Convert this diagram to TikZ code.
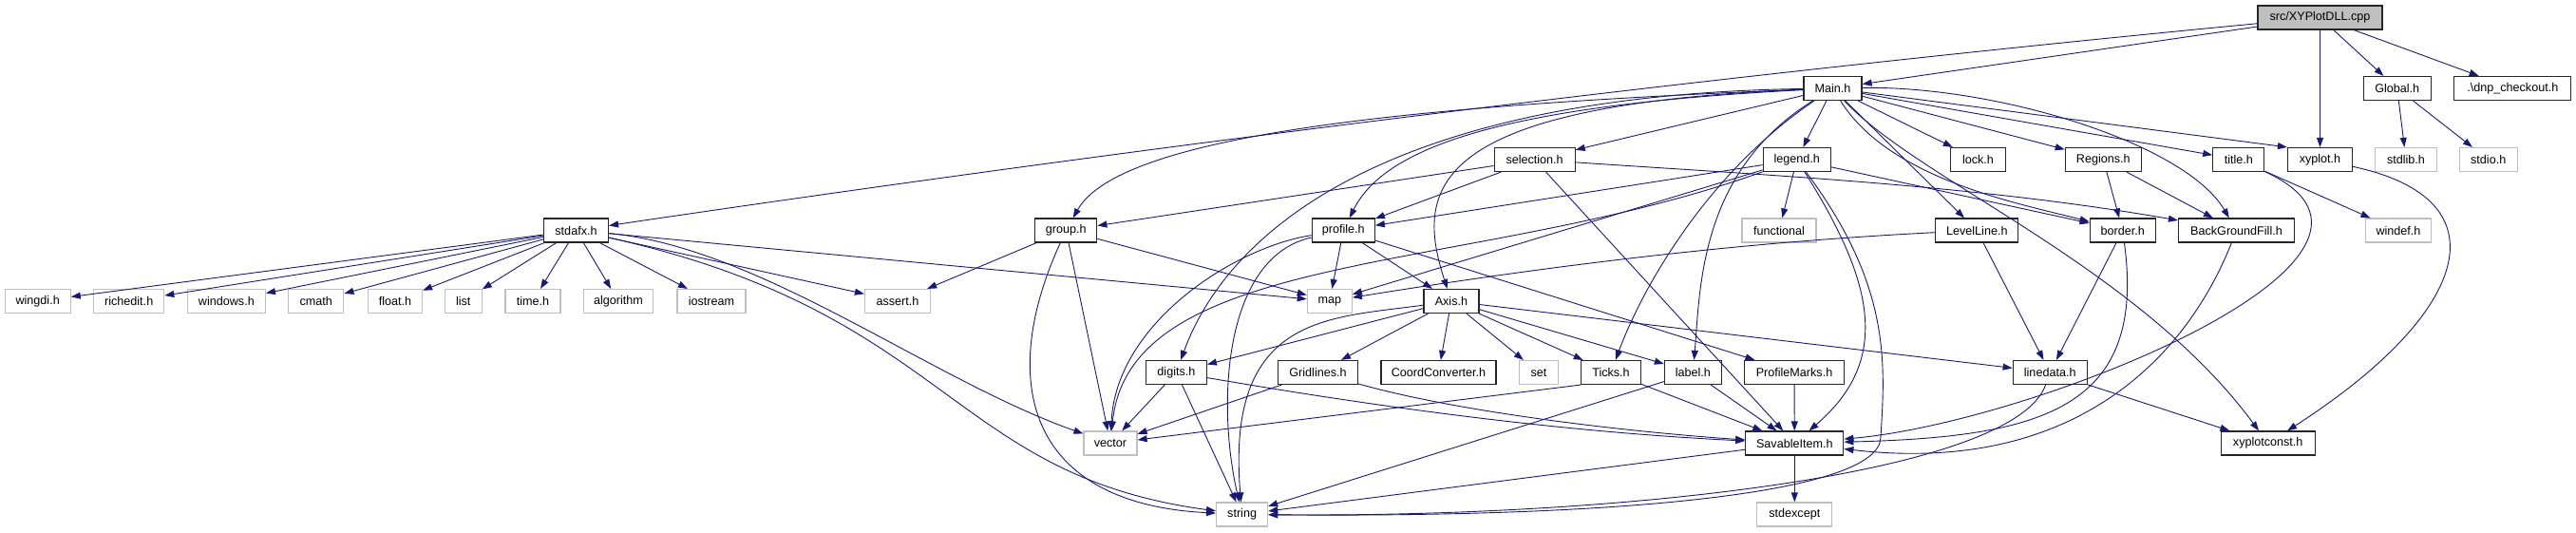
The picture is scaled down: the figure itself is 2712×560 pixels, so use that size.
\documentclass[tikz,border=0pt]{standalone}
\usepackage{fontspec}
\setmainfont{Liberation Sans}
\usepackage{tikz}
\usetikzlibrary{arrows.meta}
\definecolor{edgeblue}{HTML}{191970}
\definecolor{sysgrey}{HTML}{BFBFBF}

\begin{document}
\begin{tikzpicture}[x=1pt,y=-1pt,
    hdr/.style={draw=black!85, line width=1.2pt, fill=white, minimum height=25pt,
      inner sep=0pt, font=\fontsize{12.6}{15}\selectfont},
    sys/.style={hdr, draw=sysgrey},
    srcfile/.style={hdr, fill=sysgrey},
    dep/.style={draw=edgeblue, line width=0.9pt, -{Triangle[length=10pt,width=7pt]}}]
    \useasboundingbox (0,0) rectangle (2712,560);

    % 第一、二层
    \node[srcfile, minimum width=131pt] (cpp) at (2442.5,18.5) {src/XYPlotDLL.cpp};
    \node[hdr, minimum width=61pt] (Main) at (1929.5,93) {Main.h};
    \node[hdr, minimum width=71pt] (Global) at (2523.7,93) {Global.h};
    \node[hdr, minimum width=123pt] (dnp) at (2645.3,93) {.\textbackslash dnp\_checkout.h};

    % 第三层
    \node[hdr, minimum width=85pt] (selection) at (1615.6,168) {selection.h};
    \node[hdr, minimum width=71pt] (legend) at (1891.7,168) {legend.h};
    \node[hdr, minimum width=58pt] (lock) at (2082.5,168) {lock.h};
    \node[hdr, minimum width=80pt] (Regions) at (2214.3,168) {Regions.h};
    \node[hdr, minimum width=54pt] (title) at (2356.8,168) {title.h};
    \node[hdr, minimum width=68pt] (xyplot) at (2442.5,168) {xyplot.h};
    \node[sys, minimum width=65pt] (stdlib) at (2533,168) {stdlib.h};
    \node[sys, minimum width=61pt] (stdio) at (2619.7,168) {stdio.h};

    % 第四层
    \node[hdr, minimum width=68pt] (stdafx) at (606.5,242.5) {stdafx.h};
    \node[hdr, minimum width=65pt] (group) at (1122.3,242.5) {group.h};
    \node[hdr, minimum width=66pt] (profile) at (1414.3,242.5) {profile.h};
    \node[sys, minimum width=78pt] (functional) at (1873,242.5) {functional};
    \node[hdr, minimum width=87pt] (LevelLine) at (2081.3,242.5) {LevelLine.h};
    \node[hdr, minimum width=69pt] (border) at (2234.7,242.5) {border.h};
    \node[hdr, minimum width=122pt] (BGF) at (2354.5,242.5) {BackGroundFill.h};
    \node[sys, minimum width=69pt] (windef) at (2525,242.5) {windef.h};

    % 第五层
    \node[sys, minimum width=69pt] (wingdi) at (39.7,317) {wingdi.h};
    \node[sys, minimum width=74pt] (richedit) at (135.7,317) {richedit.h};
    \node[sys, minimum width=82pt] (windows) at (238.4,317) {windows.h};
    \node[sys, minimum width=58pt] (cmath) at (332.8,317) {cmath};
    \node[sys, minimum width=57pt] (float) at (416,317) {float.h};
    \node[sys, minimum width=39pt] (list) at (487.7,317) {list};
    \node[sys, minimum width=58pt] (time) at (561,317) {time.h};
    \node[sys, minimum width=73pt] (algorithm) at (651,317) {algorithm};
    \node[sys, minimum width=72pt] (iostream) at (748.9,317) {iostream};
    \node[sys, minimum width=69pt] (assert) at (945,317) {assert.h};
    \node[sys, minimum width=47pt] (map) at (1399.8,317) {map};
    \node[hdr, minimum width=58pt] (Axis) at (1527.9,317) {Axis.h};

    % 第六层
    \node[hdr, minimum width=64pt] (digits) at (1238.4,392) {digits.h};
    \node[hdr, minimum width=84pt] (Gridlines) at (1387.5,392) {Gridlines.h};
    \node[hdr, minimum width=121pt] (CoordConverter) at (1514.5,392) {CoordConverter.h};
    \node[sys, minimum width=41pt] (set) at (1619.9,392) {set};
    \node[hdr, minimum width=63pt] (Ticks) at (1696,392) {Ticks.h};
    \node[hdr, minimum width=60pt] (label) at (1782.4,392) {label.h};
    \node[hdr, minimum width=105pt] (ProfileMarks) at (1889,392) {ProfileMarks.h};
    \node[hdr, minimum width=78pt] (linedata) at (2158.2,392) {linedata.h};

    % 第七、八层
    \node[sys, minimum width=56pt] (vector) at (1169,466.5) {vector};
    \node[hdr, minimum width=103pt] (SavableItem) at (1889.3,466.5) {SavableItem.h};
    \node[hdr, minimum width=99pt] (xyplotconst) at (2387.7,466.5) {xyplotconst.h};
    \node[sys, minimum width=54pt] (string) at (1307.6,541.5) {string};
    \node[sys, minimum width=79pt] (stdexcept) at (1889.3,541.5) {stdexcept};
    \coordinate (lgdn) at (1980,460);

    % 源文件的包含
    \draw[dep] (cpp) -- (Main);
    \draw[dep] (cpp) .. controls (1798,80) and (1219,152) .. (stdafx);
    \draw[dep] (cpp) -- (xyplot);
    \draw[dep] (cpp) -- (Global);
    \draw[dep] (cpp) -- (dnp);
    \draw[dep] (Global) -- (stdlib);
    \draw[dep] (Global) -- (stdio);

    % Main.h 的包含
    \draw[dep] (Main) .. controls (1500,110) and (1180,140) .. (group);
    \draw[dep] (Main) -- (selection);
    \draw[dep] (Main) .. controls (1600,110) and (1460,150) .. (profile);
    \draw[dep] (Main) .. controls (1500,110) and (1490,200) .. (Axis);
    \draw[dep] (Main) .. controls (1450,100) and (1290,250) .. (digits);
    \draw[dep] (Main) -- (legend);
    \draw[dep] (Main) .. controls (1800,180) and (1730,300) .. (Ticks);
    \draw[dep] (Main) .. controls (1790,180) and (1790,300) .. (label);
    \draw[dep] (Main) -- (LevelLine);
    \draw[dep] (Main) -- (lock);
    \draw[dep] (Main) -- (Regions);
    \draw[dep] (Main) -- (title);
    \draw[dep] (Main) -- (xyplot.north west);
    \draw[dep] (Main) .. controls (1990,190) and (2130,215) .. (border);
    \draw[dep] (Main) .. controls (2100,90) and (2300,150) .. (BGF);
    \draw[dep] (Main) .. controls (2020,190) and (2250,280) .. (xyplotconst);

    % stdafx.h 的包含
    \draw[dep] (stdafx) -- (wingdi);
    \draw[dep] (stdafx) -- (richedit);
    \draw[dep] (stdafx) -- (windows);
    \draw[dep] (stdafx) -- (cmath);
    \draw[dep] (stdafx) -- (float);
    \draw[dep] (stdafx) -- (list);
    \draw[dep] (stdafx) -- (time);
    \draw[dep] (stdafx) -- (algorithm);
    \draw[dep] (stdafx) -- (iostream);
    \draw[dep] (stdafx) -- (assert);
    \draw[dep] (stdafx) -- (map);
    \draw[dep] (stdafx) .. controls (800,260) and (980,400) .. (vector);
    \draw[dep] (stdafx) .. controls (1000,330) and (1000,500) .. (string);

    % 第三层的包含
    \draw[dep] (selection) -- (group);
    \draw[dep] (selection) -- (profile);
    \draw[dep] (selection) .. controls (1870,185) and (2080,195) .. (BGF);
    \draw[dep] (selection) -- (SavableItem);
    \draw[dep] (legend) -- (profile);
    \draw[dep] (legend) -- (functional);
    \draw[dep] (legend) -- (map);
    \draw[dep] (legend) .. controls (1550,290) and (1190,260) .. (vector);
    \draw[dep] (legend) -- (border);
    \draw[dep] (legend) .. controls (1975,300) and (1990,380) .. (SavableItem);
    \draw[dep] (legend) .. controls (1990,300) and (1985,380) .. (lgdn)
        .. controls (1980,520) and (1700,545) .. (string);
    \draw[dep] (Regions) -- (border);
    \draw[dep] (Regions) -- (BGF);
    \draw[dep] (title) -- (windef);
    \draw[dep] (title) .. controls (2580,270) and (2140,445) .. (SavableItem);
    \draw[dep] (xyplot) .. controls (2640,210) and (2600,330) .. (xyplotconst);

    % 第四层的包含
    \draw[dep] (group) -- (assert);
    \draw[dep] (group) -- (map);
    \draw[dep] (group) -- (vector);
    \draw[dep] (group) .. controls (1050,400) and (1080,530) .. (string);
    \draw[dep] (profile) -- (map);
    \draw[dep] (profile) -- (Axis);
    \draw[dep] (profile) -- (ProfileMarks);
    \draw[dep] (profile) .. controls (1300,260) and (1175,340) .. (vector);
    \draw[dep] (profile) .. controls (1290,270) and (1280,420) .. (string);
    \draw[dep] (LevelLine) .. controls (1830,255) and (1630,280) .. (map);
    \draw[dep] (LevelLine) -- (linedata);
    \draw[dep] (border) -- (linedata);
    \draw[dep] (border) .. controls (2260,430) and (2150,460) .. (SavableItem);
    \draw[dep] (BGF) .. controls (2300,380) and (2180,500) .. (SavableItem);

    % Axis.h 的包含
    \draw[dep] (Axis) -- (digits);
    \draw[dep] (Axis) -- (Gridlines);
    \draw[dep] (Axis) -- (CoordConverter);
    \draw[dep] (Axis) -- (set);
    \draw[dep] (Axis) -- (Ticks);
    \draw[dep] (Axis) -- (label);
    \draw[dep] (Axis) -- (linedata);
    \draw[dep] (Axis) .. controls (1400,335) and (1290,330) .. (string);

    % 第六层的包含
    \draw[dep] (digits) -- (vector);
    \draw[dep] (digits) -- (string);
    \draw[dep] (digits) .. controls (1460,430) and (1650,455) .. (SavableItem);
    \draw[dep] (Gridlines) -- (vector);
    \draw[dep] (Gridlines) .. controls (1540,435) and (1720,455) .. (SavableItem);
    \draw[dep] (Ticks.south west) -- (vector);
    \draw[dep] (Ticks) -- (SavableItem);
    \draw[dep] (label) -- (string);
    \draw[dep] (label) -- (SavableItem);
    \draw[dep] (ProfileMarks) -- (SavableItem);
    \draw[dep] (linedata) -- (xyplotconst);
    \draw[dep] (linedata) .. controls (2120,500) and (1700,545) .. (string);

    % SavableItem.h 的包含
    \draw[dep] (SavableItem) -- (string);
    \draw[dep] (SavableItem) -- (stdexcept);
\end{tikzpicture}
\end{document}
